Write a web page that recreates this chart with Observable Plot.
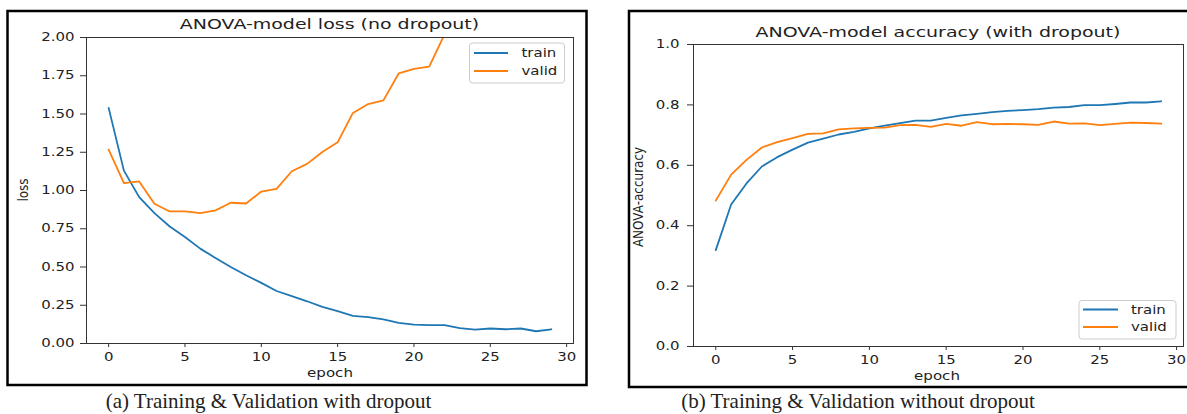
<!DOCTYPE html>
<html><head><meta charset="utf-8">
<script src="https://cdn.jsdelivr.net/npm/d3@7"></script>
<script src="https://cdn.jsdelivr.net/npm/@observablehq/plot@0.6"></script>
<style>
html,body{margin:0;padding:0;background:#fff;}
#wrap{position:relative;width:1187px;height:414px;overflow:hidden;background:#fff;}
#wrap svg{position:absolute;overflow:visible;}
</style></head><body><div id="wrap"></div>
<script>
// ---- data ----
const epochs = [0,1,2,3,4,5,6,7,8,9,10,11,12,13,14,15,16,17,18,19,20,21,22,23,24,25,26,27,28,29];
const seriesNames = ["train", "valid"];
const seriesColors = ["#1f77b4", "#ff7f0e"];

const lossTrain = [1.54,1.13,0.957,0.852,0.765,0.696,0.62,0.559,0.50,0.446,0.396,0.343,0.309,0.276,0.239,0.211,0.18,0.172,0.157,0.135,0.124,0.12,0.12,0.10,0.091,0.098,0.093,0.098,0.08,0.093];
const lossValid = [1.267,1.048,1.059,0.913,0.863,0.863,0.852,0.87,0.92,0.915,0.993,1.011,1.126,1.174,1.252,1.315,1.507,1.565,1.589,1.765,1.795,1.81,2.02];

const accTrain = [0.319,0.47,0.54,0.596,0.627,0.652,0.675,0.688,0.702,0.711,0.722,0.731,0.74,0.748,0.748,0.757,0.765,0.77,0.776,0.78,0.783,0.786,0.791,0.793,0.799,0.799,0.803,0.808,0.808,0.812];
const accValid = [0.483,0.569,0.618,0.659,0.677,0.69,0.704,0.706,0.719,0.722,0.724,0.725,0.733,0.734,0.727,0.737,0.731,0.743,0.736,0.737,0.736,0.734,0.745,0.738,0.739,0.733,0.737,0.741,0.74,0.738];

const epochTicks = [0,5,10,15,20,25,30];
const lossTicks = [0,0.25,0.5,0.75,1,1.25,1.5,1.75,2];
const accTicks = [0,0.2,0.4,0.6,0.8,1];

const titles = ["ANOVA-model loss (no dropout)", "ANOVA-model accuracy (with dropout)"];
const yLabels = ["loss", "ANOVA-accuracy"];
const xLabel = "epoch";
const captions = ["(a) Training & Validation with dropout", "(b) Training & Validation without dropout"];

// ---- helpers ----
function rows(train, valid) {
  const out = [];
  train.forEach((v, i) => out.push({epoch: epochs[i], value: v, series: "train"}));
  valid.forEach((v, i) => out.push({epoch: epochs[i], value: v, series: "valid"}));
  return out;
}
const SX = 1.3; // horizontal stretch of the reference text

function stretchTexts(svg) {
  svg.querySelectorAll("text").forEach(t => {
    const w = t.getComputedTextLength();
    if (w > 0) {
      t.setAttribute("textLength", (w * SX).toFixed(2));
      t.setAttribute("lengthAdjust", "spacingAndGlyphs");
    }
  });
}

function chart({data, width, height, mL, mR, mT, mB, yDomain, yTicks, yFmt, yTickSize, yPad}) {
  return Plot.plot({
    width, height, marginLeft: mL, marginRight: mR, marginTop: mT, marginBottom: mB,
    style: {fontFamily: "'DejaVu Sans', sans-serif", fontSize: "11.5px", color: "#222", background: "transparent", overflow: "visible"},
    x: {domain: [-1.45, 30.45]},
    y: {domain: yDomain},
    color: {domain: seriesNames, range: seriesColors},
    marks: [
      Plot.line(data, {x: "epoch", y: "value", stroke: "series", strokeWidth: 1.8, clip: true}),
      Plot.frame({stroke: "#333", strokeWidth: 1}),
      Plot.axisX({ticks: epochTicks, tickSize: 4, tickPadding: 5, tickFormat: d => String(d), label: null, stroke: "#333"}),
      Plot.axisY({ticks: yTicks, tickSize: yTickSize, tickPadding: yPad, tickFormat: yFmt, label: null, stroke: "#333"})
    ]
  });
}

const wrap = document.getElementById("wrap");

const left = chart({data: rows(lossTrain, lossValid), width: 600, height: 385, mL: 86, mR: 27, mT: 37, mB: 42,
  yDomain: [0, 2], yTicks: lossTicks, yFmt: d3.format(".2f"), yTickSize: 6, yPad: 6});
left.style.left = "0px"; left.style.top = "0px";
wrap.appendChild(left);
stretchTexts(left);

const right = chart({data: rows(accTrain, accValid), width: 587, height: 390, mL: 93, mR: 4, mT: 44, mB: 44,
  yDomain: [0, 1], yTicks: accTicks, yFmt: d3.format(".1f"), yTickSize: 6, yPad: 8});
right.style.left = "600px"; right.style.top = "0px";
wrap.appendChild(right);
stretchTexts(right);

// ---- overlay: frames, titles, labels, legends, captions ----
const F = "'DejaVu Sans', sans-serif";
function txt(s, x, y, size, anchor = "middle", extra = "", fam = F, sx = SX) {
  return `<text transform="translate(${x},${y}) scale(${sx},1) ${extra}" text-anchor="${anchor}" font-family="${fam}" font-size="${size}" fill="#222">${s.replace(/&/g, "&amp;")}</text>`;
}
function legend(x, y, w, h, lx1, lx2, ly1, ly2, tx) {
  return `<rect x="${x}" y="${y}" width="${w}" height="${h}" rx="3" fill="#fff" fill-opacity="0.8" stroke="#ccc" stroke-width="1"/>
  <line x1="${lx1}" x2="${lx2}" y1="${ly1}" y2="${ly1}" stroke="${seriesColors[0]}" stroke-width="1.8"/>
  <line x1="${lx1}" x2="${lx2}" y1="${ly2}" y2="${ly2}" stroke="${seriesColors[1]}" stroke-width="1.8"/>
  ${txt(seriesNames[0], tx, ly1 + 4, 11.5, "start")}
  ${txt(seriesNames[1], tx, ly2 + 4, 11.5, "start")}`;
}
const ov = document.createElementNS("http://www.w3.org/2000/svg", "svg");
ov.setAttribute("width", 1187); ov.setAttribute("height", 414);
ov.style.left = "0px"; ov.style.top = "0px";
ov.innerHTML = `
  <rect x="7.5" y="11" width="579" height="374" fill="none" stroke="#000" stroke-width="2.5"/>
  <rect x="629" y="11" width="600" height="376" fill="none" stroke="#000" stroke-width="2.5"/>
  ${txt(titles[0], 329.5, 29, 14.6)}
  ${txt(titles[1], 938, 37.3, 14.6)}
  ${txt(yLabels[0], 28, 190, 12, "middle", "rotate(-90)", F, 1.2)}
  ${txt(yLabels[1], 643, 197, 12, "middle", "rotate(-90)", F, 1.2)}
  ${txt(xLabel, 330, 377, 11.6)}
  ${txt(xLabel, 937, 380, 11.6)}
  ${legend(469.5, 43, 95, 40, 474, 508, 53, 71, 521.5)}
  ${legend(1079, 300.5, 97, 38.5, 1083, 1118, 309.5, 327, 1131)}
  ${txt(captions[0], 268.5, 408, 21, "middle", "", "'Liberation Serif', 'Times New Roman', serif", 1)}
  ${txt(captions[1], 858, 408, 21, "middle", "", "'Liberation Serif', 'Times New Roman', serif", 1)}
`;
wrap.appendChild(ov);
</script>
</body></html>
